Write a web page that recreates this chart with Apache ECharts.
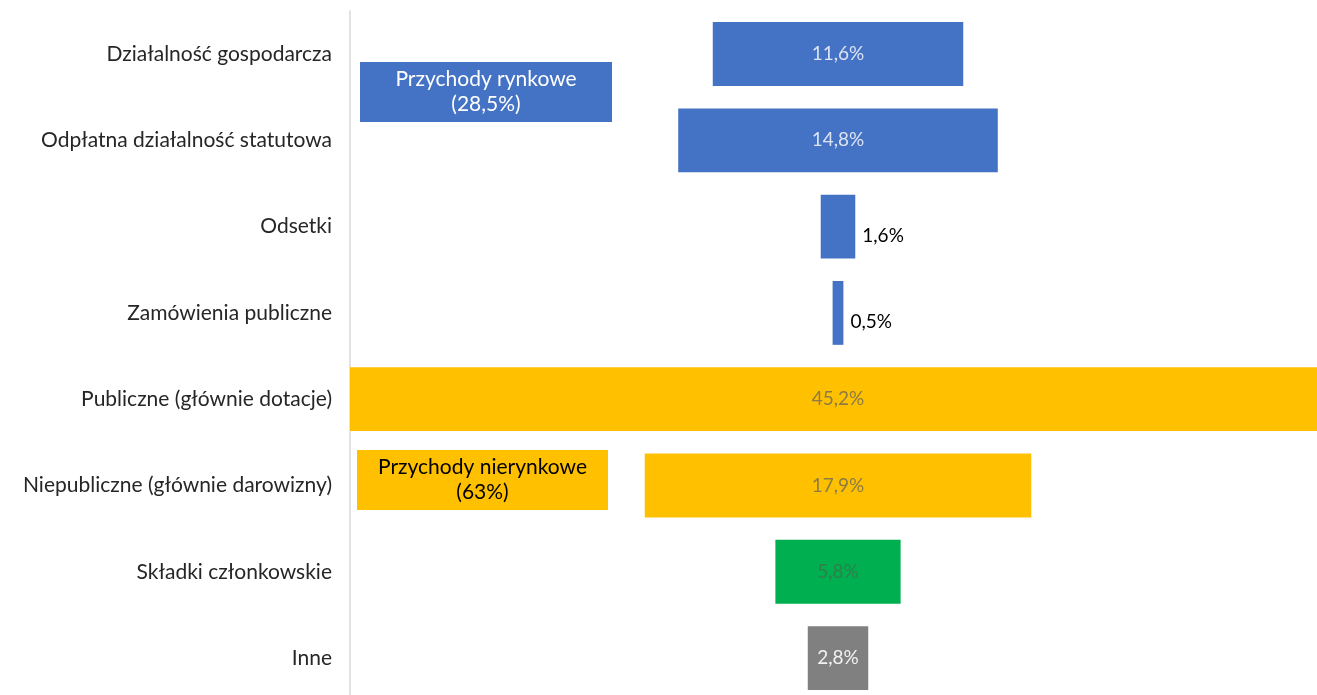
<!DOCTYPE html>
<html><head><meta charset="utf-8">
<script src="https://cdn.jsdelivr.net/npm/echarts@6/dist/echarts.min.js"></script>
<style>html,body{margin:0;padding:0;background:#fff}#c{width:1317px;height:695px}</style>
</head><body><div id="c"></div>
<script>
const categories = ["Działalność gospodarcza","Odpłatna działalność statutowa","Odsetki","Zamówienia publiczne","Publiczne (głównie dotacje)","Niepubliczne (głównie darowizny)","Składki członkowskie","Inne"];
const values = [11.6, 14.8, 1.6, 0.5, 45.2, 17.9, 5.8, 2.8];
const valueLabels = ["11,6%","14,8%","1,6%","0,5%","45,2%","17,9%","5,8%","2,8%"];
const groups = ["rynkowe","rynkowe","rynkowe","rynkowe","nierynkowe","nierynkowe","skladki","inne"];
const annotations = [
  {text:"Przychody rynkowe\n(28,5%)", group:"rynkowe"},
  {text:"Przychody nierynkowe\n(63%)", group:"nierynkowe"}
];
const colors = {rynkowe:"#4472C4", nierynkowe:"#FFC000", skladki:"#00B050", inne:"#808080"};
const labelColors = {rynkowe:"#DCE3F3", nierynkowe:"#8C7B45", skladki:"#2F7F4A", inne:"#F2F2F2"};
const maxVal = Math.max(...values);
const FONT = "Lato";

const chart = echarts.init(document.getElementById('c'));
const offsets = values.map(v => (maxVal - v) / 2);
chart.setOption({
  animation:false,
  textStyle:{fontFamily:FONT},
  grid:{left:350, width:976, top:10.9, height:690.3, containLabel:false, outerBoundsMode:'none'},
  xAxis:{type:'value', min:0, max:maxVal, show:false},
  yAxis:{type:'category', inverse:true, data:categories,
    axisLine:{show:true, lineStyle:{color:'#D9D9D9', width:1.5}},
    axisTick:{show:false},
    axisLabel:{fontFamily:FONT, fontSize:21, color:'#262626', margin:18}},
  series:[
    {type:'bar', stack:'s', data:offsets, itemStyle:{color:'transparent'}, barCategoryGap:'26%', silent:true},
    {type:'bar', stack:'s', barCategoryGap:'26%',
     data: values.map((v,i)=>{
       const small = v < 2;
       return {value:v, itemStyle:{color:colors[groups[i]]},
         label:{show:true, formatter:valueLabels[i], position: small?'right':'inside',
           distance:7, offset: small?[0,9]:[0,0],
           color: small?'#000':labelColors[groups[i]], fontSize:19, fontFamily:FONT}};
     })}
  ],
  graphic:[
    {type:'group', left:360, top:62, children:[
      {type:'rect', shape:{x:0,y:0,width:252,height:60}, style:{fill:colors[annotations[0].group]}},
      {type:'text', x:126, y:30, style:{text:annotations[0].text, fill:'#fff', font:'21px '+FONT, align:'center', verticalAlign:'middle', lineHeight:25}}
    ]},
    {type:'group', left:357, top:450, children:[
      {type:'rect', shape:{x:0,y:0,width:251,height:60}, style:{fill:colors[annotations[1].group]}},
      {type:'text', x:125.5, y:30, style:{text:annotations[1].text, fill:'#000', font:'21px '+FONT, align:'center', verticalAlign:'middle', lineHeight:25}}
    ]}
  ]
});
</script></body></html>
